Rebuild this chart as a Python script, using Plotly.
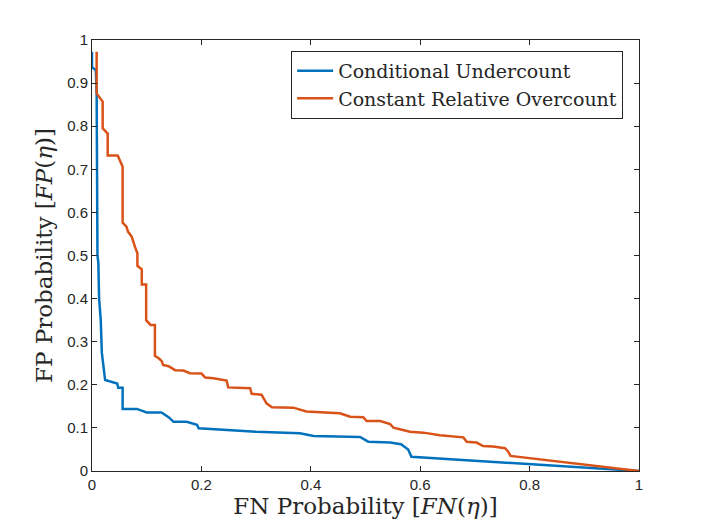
import plotly.graph_objects as go

# Conditional Undercount (blue)
fn_under = [0.0, 0.0, 0.007, 0.0085, 0.010, 0.0116, 0.013, 0.016, 0.018, 0.024,
            0.046, 0.048, 0.056, 0.056, 0.082, 0.100, 0.127, 0.134, 0.140, 0.149,
            0.173, 0.192, 0.195, 0.30, 0.38, 0.405, 0.49, 0.505, 0.545, 0.565,
            0.578, 0.584, 1.0]
fp_under = [0.973, 0.937, 0.930, 0.876, 0.50, 0.483, 0.40, 0.35, 0.274, 0.211,
            0.203, 0.193, 0.193, 0.144, 0.144, 0.136, 0.136, 0.130, 0.125, 0.114,
            0.114, 0.107, 0.099, 0.091, 0.0874, 0.081, 0.079, 0.068, 0.066, 0.062,
            0.050, 0.033, 0.0]

# Constant Relative Overcount (orange)
fn_over = [0.0085, 0.0085, 0.0195, 0.0195, 0.0287, 0.0287, 0.047, 0.056, 0.056,
           0.063, 0.066, 0.0725, 0.0786, 0.083, 0.083, 0.091, 0.091, 0.099, 0.099,
           0.107, 0.115, 0.115, 0.1225, 0.1275, 0.130, 0.140, 0.152, 0.167, 0.179,
           0.200, 0.207, 0.222, 0.246, 0.249, 0.289, 0.292, 0.310, 0.319, 0.329,
           0.368, 0.392, 0.435, 0.453, 0.472, 0.496, 0.502, 0.527, 0.545, 0.551,
           0.563, 0.581, 0.606, 0.636, 0.679, 0.685, 0.703, 0.715, 0.733, 0.755,
           0.761, 0.765, 1.0]
fp_over = [0.973, 0.876, 0.857, 0.795, 0.783, 0.732, 0.732, 0.706, 0.576,
           0.567, 0.555, 0.544, 0.520, 0.505, 0.476, 0.468, 0.433, 0.433, 0.350,
           0.339, 0.339, 0.267, 0.261, 0.255, 0.246, 0.243, 0.234, 0.233, 0.227,
           0.226, 0.217, 0.215, 0.210, 0.194, 0.192, 0.179, 0.177, 0.157, 0.148,
           0.147, 0.138, 0.134, 0.134, 0.126, 0.125, 0.116, 0.116, 0.109, 0.1005,
           0.097, 0.091, 0.089, 0.083, 0.078, 0.068, 0.066, 0.058, 0.057, 0.053,
           0.045, 0.035, 0.0]

ticks = [0, 0.1, 0.2, 0.3, 0.4, 0.5, 0.6, 0.7, 0.8, 0.9, 1]
xticks = [0, 0.2, 0.4, 0.6, 0.8, 1]

fig = go.Figure()
fig.add_trace(go.Scatter(x=fn_under, y=fp_under, mode="lines",
                         name="Conditional Undercount",
                         line=dict(color="#0072BD", width=2.5)))
fig.add_trace(go.Scatter(x=fn_over, y=fp_over, mode="lines",
                         name="Constant Relative Overcount",
                         line=dict(color="#D95319", width=2.5)))

serif = "DejaVu Serif, serif"
axis_common = dict(showgrid=False, zeroline=False, showline=True, linecolor="#262626",
                   linewidth=1, mirror="ticks", ticks="inside", ticklen=5,
                   tickcolor="#262626", automargin=False,
                   tickfont=dict(family="Liberation Sans, Arial", size=15, color="#262626"))

# page body adds an 8px offset, so the figure is a bit smaller than the window
fig.update_layout(
    width=698, height=522,
    margin=dict(l=84, r=67, t=32, b=59),
    paper_bgcolor="white", plot_bgcolor="white",
    xaxis=dict(range=[0, 1], tickvals=xticks, ticktext=[str(t) for t in xticks],
               title=dict(text="FN Probability [<i>FN</i>(<i>η</i>)]", standoff=0,
                          font=dict(family=serif, size=23, color="#262626")),
               **axis_common),
    yaxis=dict(range=[0, 1], tickvals=ticks, ticktext=[str(t) for t in ticks],
               title=dict(text="FP Probability [<i>FP</i>(<i>η</i>)]", standoff=8,
                          font=dict(family=serif, size=23, color="#262626")),
               **axis_common),
    legend=dict(x=0.971, y=0.975, xanchor="right", yanchor="top",
                bordercolor="#262626", borderwidth=1, bgcolor="white",
                font=dict(family=serif, size=19, color="#262626"),
                tracegroupgap=0, itemwidth=36),
    showlegend=True,
)

fig.write_html("out.html")
